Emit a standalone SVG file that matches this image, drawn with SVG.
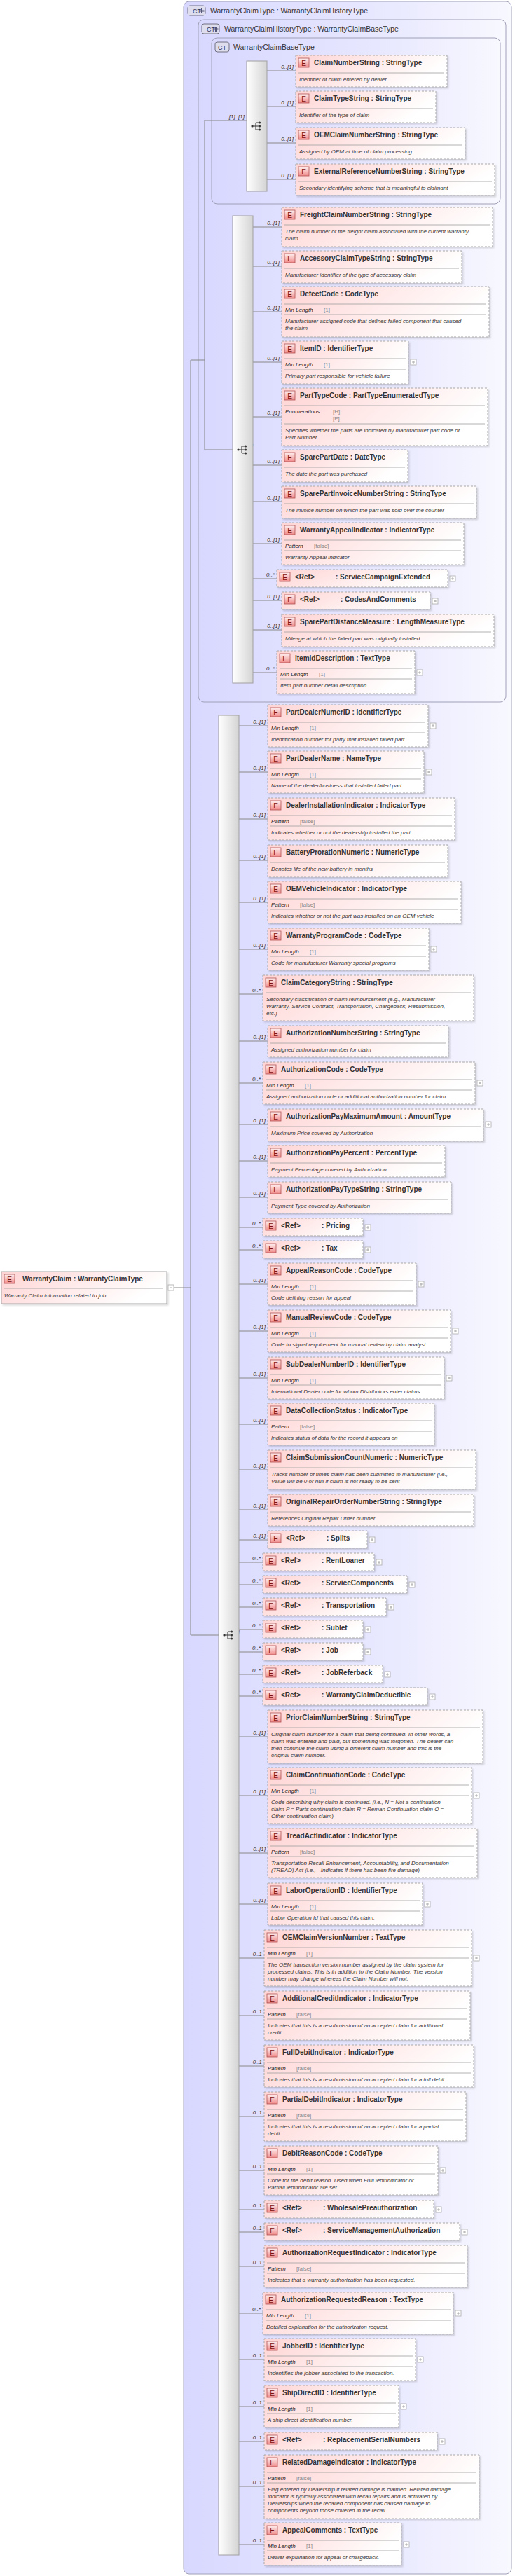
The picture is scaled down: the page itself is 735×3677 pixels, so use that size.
<svg xmlns="http://www.w3.org/2000/svg" width="735" height="3677" viewBox="0 0 735 3677">
<style>
text{font-family:"Liberation Sans",Arial,sans-serif}
.nb{fill:url(#ng);stroke:#a8a8a8;stroke-width:1;stroke-dasharray:3,2;filter:url(#sh)}
.nbs{fill:url(#ng);stroke:#a8a8a8;stroke-width:1;filter:url(#sh)}
.ei{fill:url(#eg);stroke:#b05050;stroke-width:0.8}
.et{font-size:10px;fill:#7a1010;text-anchor:middle}
.nm{font-size:10px;font-weight:bold;fill:#333}
.sp{stroke:#a0a0a0;stroke-width:0.8}
.fk{font-size:8px;font-style:italic;fill:#222}
.fv{font-size:8px;fill:#888}
.ds{font-size:8px;font-style:italic;fill:#333}
.cd{font-size:8px;font-style:italic;fill:#333;text-anchor:end}
.cn{stroke:#888;stroke-width:1;fill:none}
.bx{stroke:#a0a0b8;stroke-width:1;fill:url(#bg)}
.bar{fill:url(#sg);stroke:#a0a0a0;stroke-width:1}
.pl{fill:#fff;stroke:#aaa;stroke-width:0.8}
.hd{font-size:10.5px;fill:#333}
.ct{fill:#dde;stroke:#556;stroke-width:0.8}
</style>
<defs>
<linearGradient id="ng" x1="0" y1="0" x2="1" y2="0.3"><stop offset="0" stop-color="#ffd4d4"/><stop offset="1" stop-color="#ffffff"/></linearGradient>
<linearGradient id="eg" x1="0" y1="0" x2="0" y2="1"><stop offset="0" stop-color="#fff0f0"/><stop offset="1" stop-color="#f08a8a"/></linearGradient>
<linearGradient id="bg" x1="0" y1="0" x2="1" y2="0"><stop offset="0" stop-color="#d8d8ff"/><stop offset="0.6" stop-color="#e8e8ff"/><stop offset="1" stop-color="#f8f8ff"/></linearGradient>
<linearGradient id="sg" x1="0" y1="0" x2="1" y2="0"><stop offset="0" stop-color="#ffffff"/><stop offset="1" stop-color="#d4d4d4"/></linearGradient>
<filter id="sh" x="-5%" y="-5%" width="110%" height="120%"><feDropShadow dx="2" dy="2" stdDeviation="1" flood-color="#000" flood-opacity="0.15"/></filter>
<g id="plus"><rect class="pl" x="0" y="-4" width="8" height="8"/><path d="M2 0H6M4 -2V2" stroke="#999" stroke-width="0.8"/></g>
<g id="seq"><circle cx="-7" cy="0" r="1.6" fill="#333"/><path d="M-7 0H-2M-2 -5V5M-2 -5H3M-2 0H3M-2 5H3" stroke="#333" stroke-width="1" fill="none"/><circle cx="3.5" cy="-5" r="1.6" fill="#333"/><circle cx="3.5" cy="0" r="1.6" fill="#333"/><circle cx="3.5" cy="5" r="1.6" fill="#333"/></g>
<g id="ico"><rect class="ei" x="4" y="4" width="15" height="13"/><text class="et" x="11.5" y="14.5">E</text></g>
</defs>

<g id="boxes">
<rect class="bx" x="262" y="2" width="468" height="3672" rx="8"/>
<rect class="ct" x="268" y="8" width="25" height="14" rx="3"/><text x="275" y="19" font-size="9" fill="#335">CT</text><path d="M288 12V19M284.5 15.5H291.5" stroke="#557" stroke-width="2"/>
<text class="hd" x="300" y="19">WarrantyClaimType : WarrantyClaimHistoryType</text>
<rect class="bx" x="283" y="28" width="439" height="974" rx="8"/>
<rect class="ct" x="288" y="34" width="25" height="14" rx="3"/><text x="295" y="45" font-size="9" fill="#335">CT</text><path d="M308 38V45M304.5 41.5H311.5" stroke="#557" stroke-width="2"/>
<text class="hd" x="320" y="45">WarrantyClaimHistoryType : WarrantyClaimBaseType</text>
<rect class="bx" x="302" y="54" width="412" height="237" rx="8"/>
<rect class="ct" x="307" y="60" width="20" height="14" rx="3"/><text x="311" y="71" font-size="9" fill="#335">CT</text>
<text class="hd" x="333" y="71">WarrantyClaimBaseType</text>
</g>

<g id="connectors">
<path class="cn" d="M248 1838H272M272 514V2334H312M272 514H292M292 172V642H332M292 172H352"/>
<text class="cd" x="342" y="2331">[1]..[1]</text>
<text class="cd" x="361" y="639">[1]..[1]</text>
<text class="cd" x="349" y="169">[1]..[1]</text>
<path class="cn" d="M381 101H422M381 152H422M381 204H422M381 256H422"/>
<path class="cn" d="M361 324H402M361 380H402M361 445H402M361 517H402M361 595H402M361 664H402M361 716H402M361 776H402M361 826H395M361 857H402M361 899H402M361 960H395"/>
<path class="cn" d="M341 1036H382M341 1102H382M341 1169H382M341 1228H382M341 1288H382M341 1355H382M341 1419H375M341 1486H382M341 1546H375M341 1605H382M341 1657H382M341 1709H382M341 1752H375M341 1784H375M341 1833H382M341 1900H382M341 1967H382M341 2033H382M341 2098H382M341 2155H382M341 2198H382M341 2230H375M341 2262H375M341 2294H375M341 2326H375M341 2358H375M341 2390H375M341 2421H375M341 2479H382M341 2563H382M341 2645H382M341 2718H382M341 2795H377M341 2877H377M341 2949H377M341 3021H377M341 3098H377M341 3154H377M341 3186H377M341 3235H377M341 3302H375M341 3368H377M341 3435H377M341 3485H377M341 3549H377M341 3632H377"/>
<rect class="bar" x="352" y="87" width="29" height="186"/><use href="#seq" x="367" y="180"/>
<rect class="bar" x="332" y="308" width="29" height="667"/><use href="#seq" x="347" y="642"/>
<rect class="bar" x="312" y="1021" width="29" height="2626"/><use href="#seq" x="327" y="2334"/>
<g>
<text class="cd" x="419" y="98">0..[1]</text><text class="cd" x="419" y="149">0..[1]</text><text class="cd" x="419" y="201">0..[1]</text><text class="cd" x="419" y="253">0..[1]</text>
<text class="cd" x="399" y="321">0..[1]</text><text class="cd" x="399" y="377">0..[1]</text><text class="cd" x="399" y="442">0..[1]</text><text class="cd" x="399" y="514">0..[1]</text><text class="cd" x="399" y="592">0..[1]</text><text class="cd" x="399" y="661">0..[1]</text><text class="cd" x="399" y="713">0..[1]</text><text class="cd" x="399" y="773">0..[1]</text><text class="cd" x="392" y="823">0..*</text><text class="cd" x="399" y="854">0..[1]</text><text class="cd" x="399" y="896">0..[1]</text><text class="cd" x="392" y="957">0..*</text>
<text class="cd" x="379" y="1033">0..[1]</text><text class="cd" x="379" y="1099">0..[1]</text><text class="cd" x="379" y="1166">0..[1]</text><text class="cd" x="379" y="1225">0..[1]</text><text class="cd" x="379" y="1285">0..[1]</text><text class="cd" x="379" y="1352">0..[1]</text><text class="cd" x="372" y="1416">0..*</text><text class="cd" x="379" y="1483">0..[1]</text><text class="cd" x="372" y="1543">0..*</text><text class="cd" x="379" y="1602">0..[1]</text><text class="cd" x="379" y="1654">0..[1]</text><text class="cd" x="379" y="1706">0..[1]</text><text class="cd" x="372" y="1749">0..*</text><text class="cd" x="372" y="1781">0..*</text><text class="cd" x="379" y="1830">0..[1]</text><text class="cd" x="379" y="1897">0..[1]</text><text class="cd" x="379" y="1964">0..[1]</text><text class="cd" x="379" y="2030">0..[1]</text><text class="cd" x="379" y="2095">0..[1]</text><text class="cd" x="379" y="2152">0..[1]</text><text class="cd" x="379" y="2195">0..[1]</text><text class="cd" x="372" y="2227">0..*</text><text class="cd" x="372" y="2259">0..*</text><text class="cd" x="372" y="2291">0..*</text><text class="cd" x="372" y="2323">0..*</text><text class="cd" x="372" y="2355">0..*</text><text class="cd" x="372" y="2387">0..*</text><text class="cd" x="372" y="2418">0..*</text><text class="cd" x="379" y="2476">0..[1]</text><text class="cd" x="379" y="2560">0..[1]</text><text class="cd" x="379" y="2642">0..[1]</text><text class="cd" x="379" y="2715">0..[1]</text><text class="cd" x="374" y="2792">0..1</text><text class="cd" x="374" y="2874">0..1</text><text class="cd" x="374" y="2946">0..1</text><text class="cd" x="374" y="3018">0..1</text><text class="cd" x="374" y="3095">0..1</text><text class="cd" x="374" y="3151">0..1</text><text class="cd" x="374" y="3183">0..1</text><text class="cd" x="374" y="3232">0..1</text><text class="cd" x="372" y="3299">0..*</text><text class="cd" x="374" y="3365">0..1</text><text class="cd" x="374" y="3432">0..1</text><text class="cd" x="374" y="3482">0..1</text><text class="cd" x="374" y="3546">0..1</text><text class="cd" x="374" y="3629">0..1</text>
</g>
</g>

<g id="n-WarrantyClaim" transform="translate(2,1815)"><rect class="nbs" width="236" height="46"/><use href="#ico"/><text class="nm" x="30" y="14">WarrantyClaim  : WarrantyClaimType</text><line class="sp" x1="4" y1="24" x2="230" y2="24"/><text class="ds" x="4" y="37">Warranty Claim information related to job</text><rect class="pl" x="238" y="19" width="8" height="8"/><path d="M240 23H244" stroke="#999" stroke-width="0.8"/></g>

<g id="n-ClaimNumberString" transform="translate(422,79)"><rect class="nb" width="216" height="45"/><use href="#ico"/><text class="nm" x="26" y="14">ClaimNumberString : StringType</text><line class="sp" x1="4" y1="25" x2="212" y2="25"/><text class="ds" x="5" y="37">Identifier of claim entered by dealer</text></g>
<g id="n-ClaimTypeString" transform="translate(422,130)"><rect class="nb" width="200" height="45"/><use href="#ico"/><text class="nm" x="26" y="14">ClaimTypeString : StringType</text><line class="sp" x1="4" y1="25" x2="196" y2="25"/><text class="ds" x="5" y="37">Identifier of the type of claim</text></g>
<g id="n-OEMClaimNumberString" transform="translate(422,182)"><rect class="nb" width="242" height="45"/><use href="#ico"/><text class="nm" x="26" y="14">OEMClaimNumberString : StringType</text><line class="sp" x1="4" y1="25" x2="238" y2="25"/><text class="ds" x="5" y="37">Assigned by OEM at time of claim processing</text></g>
<g id="n-ExternalReferenceNumberString" transform="translate(422,234)"><rect class="nb" width="284" height="45"/><use href="#ico"/><text class="nm" x="26" y="14">ExternalReferenceNumberString : StringType</text><line class="sp" x1="4" y1="25" x2="280" y2="25"/><text class="ds" x="5" y="37">Secondary identifying scheme that is meaningful to claimant</text></g>

<g id="n-FreightClaimNumberString" transform="translate(402,296)"><rect class="nb" width="301" height="56"/><use href="#ico"/><text class="nm" x="26" y="14">FreightClaimNumberString : StringType</text><line class="sp" x1="4" y1="25" x2="297" y2="25"/><text class="ds" x="5" y="37">The claim number of the freight claim associated with the current warranty</text><text class="ds" x="5" y="47">claim</text></g>
<g id="n-AccessoryClaimTypeString" transform="translate(402,358)"><rect class="nb" width="257" height="46"/><use href="#ico"/><text class="nm" x="26" y="14">AccessoryClaimTypeString : StringType</text><line class="sp" x1="4" y1="25" x2="253" y2="25"/><text class="ds" x="5" y="37">Manufacturer identifier of the type of accessory claim</text></g>
<g id="n-DefectCode" transform="translate(402,409)"><rect class="nb" width="296" height="72"/><use href="#ico"/><text class="nm" x="26" y="14">DefectCode : CodeType</text><line class="sp" x1="4" y1="25" x2="292" y2="25"/><text class="fk" x="5" y="36">Min Length</text><text class="fv" x="60" y="36">[1]</text><line class="sp" x1="4" y1="40" x2="292" y2="40"/><text class="ds" x="5" y="52">Manufacturer assigned code that defines failed component that caused</text><text class="ds" x="5" y="62">the claim</text></g>
<g id="n-ItemID" transform="translate(402,487)"><rect class="nb" width="181" height="61"/><use href="#ico"/><text class="nm" x="26" y="14">ItemID     : IdentifierType</text><line class="sp" x1="4" y1="25" x2="177" y2="25"/><text class="fk" x="5" y="36">Min Length</text><text class="fv" x="60" y="36">[1]</text><line class="sp" x1="4" y1="40" x2="177" y2="40"/><text class="ds" x="5" y="52">Primary part responsible for vehicle failure</text><use href="#plus" x="184" y="30"/></g>
<g id="n-PartTypeCode" transform="translate(402,554)"><rect class="nb" width="294" height="82"/><use href="#ico"/><text class="nm" x="26" y="14">PartTypeCode : PartTypeEnumeratedType</text><line class="sp" x1="4" y1="25" x2="290" y2="25"/><text class="fk" x="5" y="36">Enumerations</text><text class="fv" x="73" y="36">[H]</text><text class="fv" x="73" y="46">[P]</text><line class="sp" x1="4" y1="51" x2="290" y2="51"/><text class="ds" x="5" y="63">Specifies whether the parts are indicated by manufacturer part code or</text><text class="ds" x="5" y="73">Part Number</text></g>
<g id="n-SparePartDate" transform="translate(402,642)"><rect class="nb" width="180" height="46"/><use href="#ico"/><text class="nm" x="26" y="14">SparePartDate : DateType</text><line class="sp" x1="4" y1="25" x2="176" y2="25"/><text class="ds" x="5" y="37">The date the part was purchased</text></g>
<g id="n-SparePartInvoiceNumberString" transform="translate(402,694)"><rect class="nb" width="278" height="46"/><use href="#ico"/><text class="nm" x="26" y="14">SparePartInvoiceNumberString : StringType</text><line class="sp" x1="4" y1="25" x2="274" y2="25"/><text class="ds" x="5" y="37">The invoice number on which the part was sold over the counter</text></g>
<g id="n-WarrantyAppealIndicator" transform="translate(402,746)"><rect class="nb" width="260" height="60"/><use href="#ico"/><text class="nm" x="26" y="14">WarrantyAppealIndicator : IndicatorType</text><line class="sp" x1="4" y1="25" x2="256" y2="25"/><text class="fk" x="5" y="36">Pattern</text><text class="fv" x="46" y="36">[false]</text><line class="sp" x1="4" y1="40" x2="256" y2="40"/><text class="ds" x="5" y="52">Warranty Appeal indicator</text></g>
<g id="n-ServiceCampaignExtended" transform="translate(395,813)"><rect class="nb" width="244" height="25"/><use href="#ico"/><text class="nm" x="26" y="14">&lt;Ref&gt;</text><text class="nm" x="84" y="14">: ServiceCampaignExtended</text><use href="#plus" x="247" y="13"/></g>
<g id="n-CodesAndComments" transform="translate(402,845)"><rect class="nb" width="212" height="25"/><use href="#ico"/><text class="nm" x="26" y="14">&lt;Ref&gt;</text><text class="nm" x="84" y="14">: CodesAndComments</text><use href="#plus" x="215" y="13"/></g>
<g id="n-SparePartDistanceMeasure" transform="translate(402,877)"><rect class="nb" width="303" height="46"/><use href="#ico"/><text class="nm" x="26" y="14">SparePartDistanceMeasure : LengthMeasureType</text><line class="sp" x1="4" y1="25" x2="299" y2="25"/><text class="ds" x="5" y="37">Mileage at which the failed part was originally installed</text></g>
<g id="n-ItemIdDescription" transform="translate(395,929)"><rect class="nb" width="197" height="61"/><use href="#ico"/><text class="nm" x="26" y="14">ItemIdDescription : TextType</text><line class="sp" x1="4" y1="25" x2="193" y2="25"/><text class="fk" x="5" y="36">Min Length</text><text class="fv" x="60" y="36">[1]</text><line class="sp" x1="4" y1="40" x2="193" y2="40"/><text class="ds" x="5" y="52">Item part number detail description</text><use href="#plus" x="200" y="31"/></g>

<g id="n-PartDealerNumerID" transform="translate(382,1006)"><rect class="nb" width="229" height="60"/><use href="#ico"/><text class="nm" x="26" y="14">PartDealerNumerID : IdentifierType</text><line class="sp" x1="4" y1="25" x2="225" y2="25"/><text class="fk" x="5" y="36">Min Length</text><text class="fv" x="60" y="36">[1]</text><line class="sp" x1="4" y1="40" x2="225" y2="40"/><text class="ds" x="5" y="52">Identification number for party that installed failed part</text><use href="#plus" x="232" y="30"/></g>
<g id="n-PartDealerName" transform="translate(382,1072)"><rect class="nb" width="223" height="60"/><use href="#ico"/><text class="nm" x="26" y="14">PartDealerName : NameType</text><line class="sp" x1="4" y1="25" x2="219" y2="25"/><text class="fk" x="5" y="36">Min Length</text><text class="fv" x="60" y="36">[1]</text><line class="sp" x1="4" y1="40" x2="219" y2="40"/><text class="ds" x="5" y="52">Name of the dealer/business that installed failed part</text><use href="#plus" x="226" y="30"/></g>
<g id="n-DealerInstallationIndicator" transform="translate(382,1139)"><rect class="nb" width="267" height="60"/><use href="#ico"/><text class="nm" x="26" y="14">DealerInstallationIndicator : IndicatorType</text><line class="sp" x1="4" y1="25" x2="263" y2="25"/><text class="fk" x="5" y="36">Pattern</text><text class="fv" x="46" y="36">[false]</text><line class="sp" x1="4" y1="40" x2="263" y2="40"/><text class="ds" x="5" y="52">Indicates whether or not the dealership installed the part</text></g>
<g id="n-BatteryProrationNumeric" transform="translate(382,1206)"><rect class="nb" width="257" height="46"/><use href="#ico"/><text class="nm" x="26" y="14">BatteryProrationNumeric : NumericType</text><line class="sp" x1="4" y1="25" x2="253" y2="25"/><text class="ds" x="5" y="37">Denotes life of the new battery in months</text></g>
<g id="n-OEMVehicleIndicator" transform="translate(382,1258)"><rect class="nb" width="276" height="60"/><use href="#ico"/><text class="nm" x="26" y="14">OEMVehicleIndicator : IndicatorType</text><line class="sp" x1="4" y1="25" x2="272" y2="25"/><text class="fk" x="5" y="36">Pattern</text><text class="fv" x="46" y="36">[false]</text><line class="sp" x1="4" y1="40" x2="272" y2="40"/><text class="ds" x="5" y="52">Indicates whether or not the part was installed on an OEM vehicle</text></g>
<g id="n-WarrantyProgramCode" transform="translate(382,1325)"><rect class="nb" width="230" height="60"/><use href="#ico"/><text class="nm" x="26" y="14">WarrantyProgramCode : CodeType</text><line class="sp" x1="4" y1="25" x2="226" y2="25"/><text class="fk" x="5" y="36">Min Length</text><text class="fv" x="60" y="36">[1]</text><line class="sp" x1="4" y1="40" x2="226" y2="40"/><text class="ds" x="5" y="52">Code for manufacturer Warranty special programs</text><use href="#plus" x="233" y="30"/></g>
<g id="n-ClaimCategoryString" transform="translate(375,1392)"><rect class="nb" width="301" height="65"/><use href="#ico"/><text class="nm" x="26" y="14">ClaimCategoryString : StringType</text><line class="sp" x1="4" y1="25" x2="297" y2="25"/><text class="ds" x="5" y="37">Secondary classification of claim reimbursement (e.g., Manufacturer</text><text class="ds" x="5" y="47">Warranty, Service Contract, Transportation, Chargeback, Resubmission,</text><text class="ds" x="5" y="57">etc.)</text></g>
<g id="n-AuthorizationNumberString" transform="translate(382,1464)"><rect class="nb" width="258" height="45"/><use href="#ico"/><text class="nm" x="26" y="14">AuthorizationNumberString : StringType</text><line class="sp" x1="4" y1="25" x2="254" y2="25"/><text class="ds" x="5" y="37">Assigned authorization number for claim</text></g>
<g id="n-AuthorizationCode" transform="translate(375,1516)"><rect class="nb" width="303" height="60"/><use href="#ico"/><text class="nm" x="26" y="14">AuthorizationCode : CodeType</text><line class="sp" x1="4" y1="25" x2="299" y2="25"/><text class="fk" x="5" y="36">Min Length</text><text class="fv" x="60" y="36">[1]</text><line class="sp" x1="4" y1="40" x2="299" y2="40"/><text class="ds" x="5" y="52">Assigned authorization code or additional authorization number for claim</text><use href="#plus" x="306" y="30"/></g>
<g id="n-AuthorizationPayMaximumAmount" transform="translate(382,1583)"><rect class="nb" width="308" height="46"/><use href="#ico"/><text class="nm" x="26" y="14">AuthorizationPayMaximumAmount : AmountType</text><line class="sp" x1="4" y1="25" x2="304" y2="25"/><text class="ds" x="5" y="37">Maximum Price covered by Authorization</text><use href="#plus" x="311" y="22"/></g>
<g id="n-AuthorizationPayPercent" transform="translate(382,1635)"><rect class="nb" width="253" height="45"/><use href="#ico"/><text class="nm" x="26" y="14">AuthorizationPayPercent : PercentType</text><line class="sp" x1="4" y1="25" x2="249" y2="25"/><text class="ds" x="5" y="37">Payment Percentage covered by Authorization</text></g>
<g id="n-AuthorizationPayTypeString" transform="translate(382,1687)"><rect class="nb" width="262" height="45"/><use href="#ico"/><text class="nm" x="26" y="14">AuthorizationPayTypeString : StringType</text><line class="sp" x1="4" y1="25" x2="258" y2="25"/><text class="ds" x="5" y="37">Payment Type covered by Authorization</text></g>
<g id="n-Pricing" transform="translate(375,1739)"><rect class="nb" width="143" height="25"/><use href="#ico"/><text class="nm" x="26" y="14">&lt;Ref&gt;</text><text class="nm" x="84" y="14">: Pricing</text><use href="#plus" x="146" y="13"/></g>
<g id="n-Tax" transform="translate(375,1771)"><rect class="nb" width="143" height="25"/><use href="#ico"/><text class="nm" x="26" y="14">&lt;Ref&gt;</text><text class="nm" x="84" y="14">: Tax</text><use href="#plus" x="146" y="13"/></g>
<g id="n-AppealReasonCode" transform="translate(382,1803)"><rect class="nb" width="212" height="60"/><use href="#ico"/><text class="nm" x="26" y="14">AppealReasonCode : CodeType</text><line class="sp" x1="4" y1="25" x2="208" y2="25"/><text class="fk" x="5" y="36">Min Length</text><text class="fv" x="60" y="36">[1]</text><line class="sp" x1="4" y1="40" x2="208" y2="40"/><text class="ds" x="5" y="52">Code defining reason for appeal</text><use href="#plus" x="215" y="30"/></g>
<g id="n-ManualReviewCode" transform="translate(382,1870)"><rect class="nb" width="261" height="60"/><use href="#ico"/><text class="nm" x="26" y="14">ManualReviewCode : CodeType</text><line class="sp" x1="4" y1="25" x2="257" y2="25"/><text class="fk" x="5" y="36">Min Length</text><text class="fv" x="60" y="36">[1]</text><line class="sp" x1="4" y1="40" x2="257" y2="40"/><text class="ds" x="5" y="52">Code to signal requirement for manual review by claim analyst</text><use href="#plus" x="264" y="30"/></g>
<g id="n-SubDealerNumberID" transform="translate(382,1937)"><rect class="nb" width="252" height="60"/><use href="#ico"/><text class="nm" x="26" y="14">SubDealerNumberID : IdentifierType</text><line class="sp" x1="4" y1="25" x2="248" y2="25"/><text class="fk" x="5" y="36">Min Length</text><text class="fv" x="60" y="36">[1]</text><line class="sp" x1="4" y1="40" x2="248" y2="40"/><text class="ds" x="5" y="52">International Dealer code for whom Distributors enter claims</text><use href="#plus" x="255" y="30"/></g>
<g id="n-DataCollectionStatus" transform="translate(382,2003)"><rect class="nb" width="238" height="60"/><use href="#ico"/><text class="nm" x="26" y="14">DataCollectionStatus : IndicatorType</text><line class="sp" x1="4" y1="25" x2="234" y2="25"/><text class="fk" x="5" y="36">Pattern</text><text class="fv" x="46" y="36">[false]</text><line class="sp" x1="4" y1="40" x2="234" y2="40"/><text class="ds" x="5" y="52">Indicates status of data for the record it appears on</text></g>
<g id="n-ClaimSubmissionCountNumeric" transform="translate(382,2070)"><rect class="nb" width="297" height="56"/><use href="#ico"/><text class="nm" x="26" y="14">ClaimSubmissionCountNumeric : NumericType</text><line class="sp" x1="4" y1="25" x2="293" y2="25"/><text class="ds" x="5" y="37">Tracks number of times claim has been submitted to manufacturer (i.e.,</text><text class="ds" x="5" y="47">Value will be 0 or null if claim is not ready to be sent</text></g>
<g id="n-OriginalRepairOrderNumberString" transform="translate(382,2133)"><rect class="nb" width="294" height="45"/><use href="#ico"/><text class="nm" x="26" y="14">OriginalRepairOrderNumberString : StringType</text><line class="sp" x1="4" y1="25" x2="290" y2="25"/><text class="ds" x="5" y="37">References Original Repair Order number</text></g>
<g id="n-Splits" transform="translate(382,2185)"><rect class="nb" width="142" height="25"/><use href="#ico"/><text class="nm" x="26" y="14">&lt;Ref&gt;</text><text class="nm" x="84" y="14">: Splits</text><use href="#plus" x="145" y="13"/></g>
<g id="n-RentLoaner" transform="translate(375,2217)"><rect class="nb" width="159" height="25"/><use href="#ico"/><text class="nm" x="26" y="14">&lt;Ref&gt;</text><text class="nm" x="84" y="14">: RentLoaner</text><use href="#plus" x="162" y="13"/></g>
<g id="n-ServiceComponents" transform="translate(375,2249)"><rect class="nb" width="206" height="25"/><use href="#ico"/><text class="nm" x="26" y="14">&lt;Ref&gt;</text><text class="nm" x="84" y="14">: ServiceComponents</text><use href="#plus" x="209" y="13"/></g>
<g id="n-Transportation" transform="translate(375,2281)"><rect class="nb" width="176" height="25"/><use href="#ico"/><text class="nm" x="26" y="14">&lt;Ref&gt;</text><text class="nm" x="84" y="14">: Transportation</text><use href="#plus" x="179" y="13"/></g>
<g id="n-Sublet" transform="translate(375,2313)"><rect class="nb" width="143" height="25"/><use href="#ico"/><text class="nm" x="26" y="14">&lt;Ref&gt;</text><text class="nm" x="84" y="14">: Sublet</text><use href="#plus" x="146" y="13"/></g>
<g id="n-Job" transform="translate(375,2345)"><rect class="nb" width="143" height="25"/><use href="#ico"/><text class="nm" x="26" y="14">&lt;Ref&gt;</text><text class="nm" x="84" y="14">: Job</text><use href="#plus" x="146" y="13"/></g>
<g id="n-JobReferback" transform="translate(375,2377)"><rect class="nb" width="171" height="25"/><use href="#ico"/><text class="nm" x="26" y="14">&lt;Ref&gt;</text><text class="nm" x="84" y="14">: JobReferback</text><use href="#plus" x="174" y="13"/></g>
<g id="n-WarrantyClaimDeductible" transform="translate(375,2409)"><rect class="nb" width="235" height="25"/><use href="#ico"/><text class="nm" x="26" y="14">&lt;Ref&gt;</text><text class="nm" x="84" y="14">: WarrantyClaimDeductible</text><use href="#plus" x="238" y="13"/></g>
<g id="n-PriorClaimNumberString" transform="translate(382,2441)"><rect class="nb" width="307" height="76"/><use href="#ico"/><text class="nm" x="26" y="14">PriorClaimNumberString : StringType</text><line class="sp" x1="4" y1="25" x2="303" y2="25"/><text class="ds" x="5" y="37">Original claim number for a claim that being continued. In other words, a</text><text class="ds" x="5" y="47">claim was entered and paid, but something was forgotten. The dealer can</text><text class="ds" x="5" y="57">then continue the claim using a different claim number and this is the</text><text class="ds" x="5" y="67">original claim number.</text></g>
<g id="n-ClaimContinuationCode" transform="translate(382,2523)"><rect class="nb" width="291" height="80"/><use href="#ico"/><text class="nm" x="26" y="14">ClaimContinuationCode : CodeType</text><line class="sp" x1="4" y1="25" x2="287" y2="25"/><text class="fk" x="5" y="36">Min Length</text><text class="fv" x="60" y="36">[1]</text><line class="sp" x1="4" y1="40" x2="287" y2="40"/><text class="ds" x="5" y="52">Code describing why claim is continued. (i.e., N = Not a continuation</text><text class="ds" x="5" y="62">claim P = Parts continuation claim R = Reman Continuation claim O =</text><text class="ds" x="5" y="72">Other continuation claim)</text><use href="#plus" x="294" y="40"/></g>
<g id="n-TreadActIndicator" transform="translate(382,2610)"><rect class="nb" width="299" height="70"/><use href="#ico"/><text class="nm" x="26" y="14">TreadActIndicator : IndicatorType</text><line class="sp" x1="4" y1="25" x2="295" y2="25"/><text class="fk" x="5" y="36">Pattern</text><text class="fv" x="46" y="36">[false]</text><line class="sp" x1="4" y1="40" x2="295" y2="40"/><text class="ds" x="5" y="52">Transportation Recall Enhancement, Accountability, and Documentation</text><text class="ds" x="5" y="62">(TREAD) Act (i.e., - Indicates if there has been fire damage)</text></g>
<g id="n-LaborOperationID" transform="translate(382,2688)"><rect class="nb" width="221" height="60"/><use href="#ico"/><text class="nm" x="26" y="14">LaborOperationID : IdentifierType</text><line class="sp" x1="4" y1="25" x2="217" y2="25"/><text class="fk" x="5" y="36">Min Length</text><text class="fv" x="60" y="36">[1]</text><line class="sp" x1="4" y1="40" x2="217" y2="40"/><text class="ds" x="5" y="52">Labor Operation Id that caused this claim.</text><use href="#plus" x="224" y="30"/></g>
<g id="n-OEMClaimVersionNumber" transform="translate(377,2755)"><rect class="nb" width="296" height="80"/><use href="#ico"/><text class="nm" x="26" y="14">OEMClaimVersionNumber : TextType</text><line class="sp" x1="4" y1="25" x2="292" y2="25"/><text class="fk" x="5" y="36">Min Length</text><text class="fv" x="60" y="36">[1]</text><line class="sp" x1="4" y1="40" x2="292" y2="40"/><text class="ds" x="5" y="52">The OEM transaction version number assigned by the claim system for</text><text class="ds" x="5" y="62">processed claims. This is in addition to the Claim Number. The version</text><text class="ds" x="5" y="72">number may change whereas the Claim Number will not.</text><use href="#plus" x="299" y="40"/></g>
<g id="n-AdditionalCreditIndicator" transform="translate(377,2842)"><rect class="nb" width="294" height="70"/><use href="#ico"/><text class="nm" x="26" y="14">AdditionalCreditIndicator : IndicatorType</text><line class="sp" x1="4" y1="25" x2="290" y2="25"/><text class="fk" x="5" y="36">Pattern</text><text class="fv" x="46" y="36">[false]</text><line class="sp" x1="4" y1="40" x2="290" y2="40"/><text class="ds" x="5" y="52">Indicates that this is a resubmission of an accepted claim for additional</text><text class="ds" x="5" y="62">credit.</text></g>
<g id="n-FullDebitIndicator" transform="translate(377,2919)"><rect class="nb" width="299" height="60"/><use href="#ico"/><text class="nm" x="26" y="14">FullDebitIndicator : IndicatorType</text><line class="sp" x1="4" y1="25" x2="295" y2="25"/><text class="fk" x="5" y="36">Pattern</text><text class="fv" x="46" y="36">[false]</text><line class="sp" x1="4" y1="40" x2="295" y2="40"/><text class="ds" x="5" y="52">Indicates that this is a resubmission of an accepted claim for a full debit.</text></g>
<g id="n-PartialDebitIndicator" transform="translate(377,2986)"><rect class="nb" width="288" height="70"/><use href="#ico"/><text class="nm" x="26" y="14">PartialDebitIndicator : IndicatorType</text><line class="sp" x1="4" y1="25" x2="284" y2="25"/><text class="fk" x="5" y="36">Pattern</text><text class="fv" x="46" y="36">[false]</text><line class="sp" x1="4" y1="40" x2="284" y2="40"/><text class="ds" x="5" y="52">Indicates that this is a resubmission of an accepted claim for a partial</text><text class="ds" x="5" y="62">debit.</text></g>
<g id="n-DebitReasonCode" transform="translate(377,3063)"><rect class="nb" width="248" height="70"/><use href="#ico"/><text class="nm" x="26" y="14">DebitReasonCode : CodeType</text><line class="sp" x1="4" y1="25" x2="244" y2="25"/><text class="fk" x="5" y="36">Min Length</text><text class="fv" x="60" y="36">[1]</text><line class="sp" x1="4" y1="40" x2="244" y2="40"/><text class="ds" x="5" y="52">Code for the debit reason. Used when FullDebitIndicator or</text><text class="ds" x="5" y="62">PartialDebitIndicator are set.</text><use href="#plus" x="251" y="35"/></g>
<g id="n-WholesalePreauthorization" transform="translate(377,3141)"><rect class="nb" width="242" height="25"/><use href="#ico"/><text class="nm" x="26" y="14">&lt;Ref&gt;</text><text class="nm" x="84" y="14">: WholesalePreauthorization</text><use href="#plus" x="245" y="13"/></g>
<g id="n-ServiceManagementAuthorization" transform="translate(377,3173)"><rect class="nb" width="279" height="25"/><use href="#ico"/><text class="nm" x="26" y="14">&lt;Ref&gt;</text><text class="nm" x="84" y="14">: ServiceManagementAuthorization</text><use href="#plus" x="282" y="13"/></g>
<g id="n-AuthorizationRequestIndicator" transform="translate(377,3205)"><rect class="nb" width="290" height="60"/><use href="#ico"/><text class="nm" x="26" y="14">AuthorizationRequestIndicator : IndicatorType</text><line class="sp" x1="4" y1="25" x2="286" y2="25"/><text class="fk" x="5" y="36">Pattern</text><text class="fv" x="46" y="36">[false]</text><line class="sp" x1="4" y1="40" x2="286" y2="40"/><text class="ds" x="5" y="52">Indicates that a warranty authorization has been requested.</text></g>
<g id="n-AuthorizationRequestedReason" transform="translate(375,3272)"><rect class="nb" width="272" height="60"/><use href="#ico"/><text class="nm" x="26" y="14">AuthorizationRequestedReason : TextType</text><line class="sp" x1="4" y1="25" x2="268" y2="25"/><text class="fk" x="5" y="36">Min Length</text><text class="fv" x="60" y="36">[1]</text><line class="sp" x1="4" y1="40" x2="268" y2="40"/><text class="ds" x="5" y="52">Detailed explanation for the authorizaton request.</text><use href="#plus" x="275" y="30"/></g>
<g id="n-JobberID" transform="translate(377,3338)"><rect class="nb" width="216" height="60"/><use href="#ico"/><text class="nm" x="26" y="14">JobberID : IdentifierType</text><line class="sp" x1="4" y1="25" x2="212" y2="25"/><text class="fk" x="5" y="36">Min Length</text><text class="fv" x="60" y="36">[1]</text><line class="sp" x1="4" y1="40" x2="212" y2="40"/><text class="ds" x="5" y="52">Indentifies the jobber associated to the transaction.</text><use href="#plus" x="219" y="30"/></g>
<g id="n-ShipDirectID" transform="translate(377,3405)"><rect class="nb" width="192" height="60"/><use href="#ico"/><text class="nm" x="26" y="14">ShipDirectID : IdentifierType</text><line class="sp" x1="4" y1="25" x2="188" y2="25"/><text class="fk" x="5" y="36">Min Length</text><text class="fv" x="60" y="36">[1]</text><line class="sp" x1="4" y1="40" x2="188" y2="40"/><text class="ds" x="5" y="52">A ship direct identification number.</text><use href="#plus" x="195" y="30"/></g>
<g id="n-ReplacementSerialNumbers" transform="translate(377,3472)"><rect class="nb" width="247" height="25"/><use href="#ico"/><text class="nm" x="26" y="14">&lt;Ref&gt;</text><text class="nm" x="84" y="14">: ReplacementSerialNumbers</text><use href="#plus" x="250" y="13"/></g>
<g id="n-RelatedDamageIndicator" transform="translate(377,3504)"><rect class="nb" width="307" height="91"/><use href="#ico"/><text class="nm" x="26" y="14">RelatedDamageIndicator : IndicatorType</text><line class="sp" x1="4" y1="25" x2="303" y2="25"/><text class="fk" x="5" y="36">Pattern</text><text class="fv" x="46" y="36">[false]</text><line class="sp" x1="4" y1="40" x2="303" y2="40"/><text class="ds" x="5" y="52">Flag entered by Dealership if related damage is claimed. Related damage</text><text class="ds" x="5" y="62">indicator is typically associated with recall repairs and is activated by</text><text class="ds" x="5" y="72">Dealerships when the recalled component has caused damage to</text><text class="ds" x="5" y="82">components beyond those covered in the recall.</text></g>
<g id="n-AppealComments" transform="translate(377,3601)"><rect class="nb" width="196" height="61"/><use href="#ico"/><text class="nm" x="26" y="14">AppealComments : TextType</text><line class="sp" x1="4" y1="25" x2="192" y2="25"/><text class="fk" x="5" y="36">Min Length</text><text class="fv" x="60" y="36">[1]</text><line class="sp" x1="4" y1="40" x2="192" y2="40"/><text class="ds" x="5" y="52">Dealer explanation for appeal of chargeback.</text><use href="#plus" x="199" y="31"/></g>
</svg>
